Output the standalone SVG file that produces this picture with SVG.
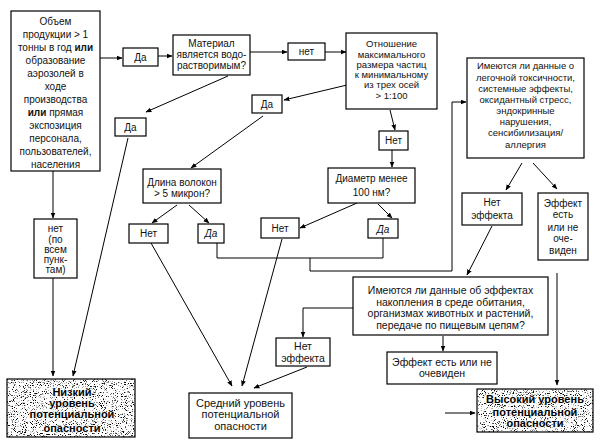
<svg xmlns="http://www.w3.org/2000/svg" width="604" height="445" viewBox="0 0 604 445">
<defs>
<style>
.box{fill:#fff;stroke:#000;stroke-width:1.2}
.t{font-family:"Liberation Sans",Arial,sans-serif;font-size:10px;text-anchor:middle;fill:#111}
.s{font-size:9.5px}
.m{font-size:10.5px}
.big{font-size:11px}
.b{font-weight:bold}
.hb{font-family:"Liberation Sans",Arial,sans-serif;font-size:11px;font-weight:bold;text-anchor:middle;fill:#000;stroke:#fff;stroke-width:1.6;paint-order:stroke}
.c{fill:none;stroke:#000;stroke-width:1}
.a{marker-end:url(#ah)}
</style>
<marker id="ah" viewBox="0 0 10 10" refX="9" refY="5" markerWidth="6" markerHeight="6" orient="auto" markerUnits="userSpaceOnUse">
<path d="M0,1 L10,5 L0,9 z" fill="#000"/>
</marker>
<filter id="noise" x="0" y="0" width="100%" height="100%">
<feTurbulence type="fractalNoise" baseFrequency="0.9" numOctaves="2" seed="7" result="t"/>
<feColorMatrix in="t" type="matrix" values="0 0 0 0 0  0 0 0 0 0  0 0 0 0 0  -7 0 0 0 3.05" result="a"/>
<feComposite in="a" in2="SourceGraphic" operator="in"/>
</filter>
</defs>
<rect width="604" height="445" fill="#fff"/>

<g id="connectors">
<line class="c a" x1="100" y1="58" x2="122" y2="58"/>
<line class="c a" x1="158" y1="56" x2="172" y2="56"/>
<line class="c a" x1="250" y1="52" x2="287" y2="52"/>
<line class="c a" x1="325" y1="52" x2="346" y2="52"/>
<line class="c a" x1="347" y1="85" x2="284" y2="100"/>
<line class="c a" x1="228" y1="76" x2="146" y2="112"/>
<line class="c a" x1="263" y1="116" x2="191" y2="168"/>
<line class="c a" x1="390" y1="110" x2="395" y2="130"/>
<line class="c a" x1="392" y1="150" x2="392" y2="167"/>
<line class="c a" x1="177" y1="205" x2="152" y2="223"/>
<line class="c a" x1="189" y1="205" x2="209" y2="223"/>
<line class="c a" x1="357" y1="203" x2="300" y2="228"/>
<line class="c a" x1="378" y1="204" x2="392" y2="218"/>
<polyline class="c" points="217,243 217,258 383,258 383,238"/>
<polyline class="c a" points="310,258 310,271 452,271 452,102 466,102"/>
<line class="c a" x1="522" y1="163" x2="506" y2="190"/>
<line class="c a" x1="533" y1="163" x2="557" y2="189"/>
<line class="c a" x1="492" y1="226" x2="467" y2="275"/>
<line class="c a" x1="557" y1="273" x2="557" y2="385"/>
<polyline class="c a" points="353,308 303,308 303,337"/>
<line class="c a" x1="443" y1="336" x2="443" y2="351"/>
<line class="c a" x1="307" y1="367" x2="254" y2="388"/>
<line class="c a" x1="151" y1="243" x2="232" y2="386"/>
<line class="c a" x1="282" y1="239" x2="242" y2="386"/>
<line class="c a" x1="53" y1="171" x2="53" y2="218"/>
<line class="c a" x1="53" y1="278" x2="53" y2="376"/>
<line class="c a" x1="128" y1="138" x2="73" y2="376"/>
<line class="c a" x1="445" y1="413" x2="475" y2="413"/>
</g>

<g id="n_volume">
<rect class="box" x="11" y="11" width="89" height="160"/>
<text class="t"><tspan x="55.5" y="25">Объем</tspan><tspan x="55.5" y="38">продукции &gt; 1</tspan><tspan x="55.5" y="51">тонны в год <tspan class="b">или</tspan></tspan><tspan x="55.5" y="64">образование</tspan><tspan x="55.5" y="77">аэрозолей в</tspan><tspan x="55.5" y="90">ходе</tspan><tspan x="55.5" y="103">производства</tspan><tspan x="55.5" y="116"><tspan class="b">или</tspan> прямая</tspan><tspan x="55.5" y="129">экспозиция</tspan><tspan x="55.5" y="142">персонала,</tspan><tspan x="55.5" y="155">пользователей,</tspan><tspan x="55.5" y="168">населения</tspan></text>
</g>

<g id="n_da1">
<rect class="box" x="123" y="48" width="35" height="18"/>
<text class="t" x="140.5" y="61">Да</text>
</g>

<g id="n_soluble">
<rect class="box" x="173" y="35" width="77" height="40"/>
<text class="t"><tspan x="211.5" y="47">Материал</tspan><tspan x="211.5" y="58">является водо-</tspan><tspan x="211.5" y="69">растворимым?</tspan></text>
</g>

<g id="n_net1">
<rect class="box" x="288" y="43" width="37" height="17"/>
<text class="t" x="306.5" y="55">нет</text>
</g>

<g id="n_ratio">
<rect class="box" x="346" y="33" width="91" height="76"/>
<text class="t s"><tspan x="391.5" y="47">Отношение</tspan><tspan x="391.5" y="58">максимального</tspan><tspan x="391.5" y="68">размера частиц</tspan><tspan x="391.5" y="78">к минимальному</tspan><tspan x="391.5" y="88">из трех осей</tspan><tspan x="391.5" y="99">&gt; 1:100</tspan></text>
</g>

<g id="n_da2">
<rect class="box" x="252" y="95" width="30" height="18"/>
<text class="t" x="267" y="108">Да</text>
</g>

<g id="n_da3">
<rect class="box" x="115" y="118" width="31" height="18"/>
<text class="t" x="130.5" y="131">Да</text>
</g>

<g id="n_net2">
<rect class="box" x="379" y="131" width="29" height="19"/>
<text class="t" x="393.5" y="144">Нет</text>
</g>

<g id="n_fiber">
<rect class="box" x="143" y="169" width="78" height="34"/>
<text class="t"><tspan x="182" y="186">Длина волокон</tspan><tspan x="182" y="197">&gt; 5 микрон?</tspan></text>
</g>

<g id="n_diam">
<rect class="box" x="328" y="168" width="87" height="35"/>
<text class="t"><tspan x="371.5" y="182">Диаметр менее</tspan><tspan x="371.5" y="196">100 нм?</tspan></text>
</g>

<g id="n_net3">
<rect class="box" x="129" y="224" width="39" height="19"/>
<text class="t" x="148.5" y="237">Нет</text>
</g>

<g id="n_da4">
<rect class="box" x="198" y="224" width="26" height="19"/>
<text class="t" x="211" y="237" font-style="italic">Да</text>
</g>

<g id="n_net4">
<rect class="box" x="261" y="218" width="38" height="20"/>
<text class="t" x="280" y="232">Нет</text>
</g>

<g id="n_da5">
<rect class="box" x="368" y="219" width="30" height="19"/>
<text class="t" x="383" y="233" font-style="italic">Да</text>
</g>

<g id="n_tox">
<rect class="box" x="467" y="58" width="117" height="100"/>
<text class="t s"><tspan x="525.5" y="69">Имеются ли данные о</tspan><tspan x="525.5" y="81">легочной токсичности,</tspan><tspan x="525.5" y="92">системные эффекты,</tspan><tspan x="525.5" y="103">оксидантный стресс,</tspan><tspan x="525.5" y="114">эндокринные</tspan><tspan x="525.5" y="125">нарушения,</tspan><tspan x="525.5" y="136">сенсибилизация/</tspan><tspan x="525.5" y="148">аллергия</tspan></text>
</g>

<g id="n_noeff1">
<rect class="box" x="462" y="193" width="60" height="32"/>
<text class="t"><tspan x="492" y="206">Нет</tspan><tspan x="492" y="219">эффекта</tspan></text>
</g>

<g id="n_eff1">
<rect class="box" x="538" y="193" width="50" height="67"/>
<text class="t"><tspan x="563" y="207">Эффект</tspan><tspan x="563" y="218">есть</tspan><tspan x="563" y="231">или не</tspan><tspan x="563" y="242">оче-</tspan><tspan x="563" y="254">виден</tspan></text>
</g>

<g id="n_all">
<rect class="box" x="34" y="219" width="43" height="59"/>
<text class="t"><tspan x="55.5" y="232">нет</tspan><tspan x="55.5" y="243">(по</tspan><tspan x="55.5" y="253">всем</tspan><tspan x="55.5" y="263">пунк-</tspan><tspan x="55.5" y="273">там)</tspan></text>
</g>

<g id="n_accum">
<rect class="box" x="353" y="277" width="195" height="58"/>
<text class="t m"><tspan x="450.5" y="294">Имеются ли данные об эффектах</tspan><tspan x="450.5" y="306">накопления в среде обитания,</tspan><tspan x="450.5" y="317">организмах животных и растений,</tspan><tspan x="450.5" y="329">передаче по пищевым цепям?</tspan></text>
</g>

<g id="n_noeff2">
<rect class="box" x="276" y="338" width="54" height="28"/>
<text class="t m"><tspan x="303" y="350">Нет</tspan><tspan x="303" y="362">эффекта</tspan></text>
</g>

<g id="n_eff2">
<rect class="box" x="387" y="352" width="110" height="32"/>
<text class="t m"><tspan x="442" y="366">Эффект есть или не</tspan><tspan x="442" y="377">очевиден</tspan></text>
</g>

<g id="n_low">
<rect x="7" y="379" width="128" height="58" fill="#fff"/>
<rect x="7" y="379" width="128" height="58" fill="#000" filter="url(#noise)"/>
<rect x="7" y="379" width="128" height="58" fill="none" stroke="#000" stroke-width="1.2"/>
<text class="hb"><tspan x="72" y="396">Низкий</tspan><tspan x="72" y="407">уровень</tspan><tspan x="72" y="418">потенциальной</tspan><tspan x="72" y="432">опасности</tspan></text>
</g>

<g id="n_mid">
<rect class="box" x="189" y="393" width="103" height="45"/>
<text class="t big"><tspan x="240.5" y="407">Средний уровень</tspan><tspan x="240.5" y="418">потенциальной</tspan><tspan x="240.5" y="430">опасности</tspan></text>
</g>

<g id="n_high">
<rect x="477" y="389" width="116" height="43" fill="#fff"/>
<rect x="477" y="389" width="116" height="43" fill="#000" filter="url(#noise)"/>
<rect x="477" y="389" width="116" height="43" fill="none" stroke="#000" stroke-width="1.2"/>
<text class="hb"><tspan x="535" y="403">Высокий уровень</tspan><tspan x="535" y="416">потенциальной</tspan><tspan x="535" y="427">опасности</tspan></text>
</g>
</svg>
